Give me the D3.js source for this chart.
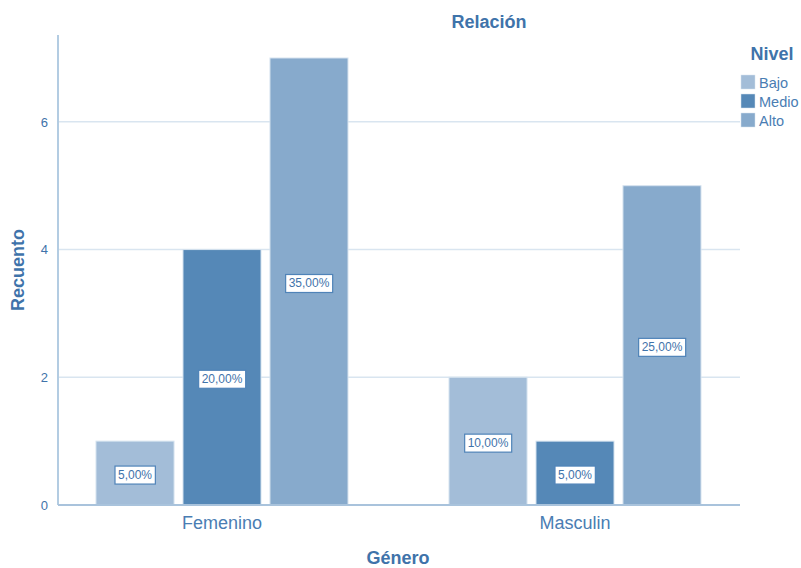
<!DOCTYPE html>
<html><head><meta charset="utf-8">
<script src="https://cdn.jsdelivr.net/npm/d3@7"></script>
<style>body{margin:0;background:#fff}svg{display:block}text{font-family:"Liberation Sans",Arial,sans-serif}</style>
</head><body><svg id="c" width="801" height="568"></svg>
<script>
const categories = ["Femenino", "Masculin"];
const levels = ["Bajo", "Medio", "Alto"];
const bajo = [1, 2];
const medio = [4, 1];
const alto = [7, 5];
const pctBajo = ["5,00%", "10,00%"];
const pctMedio = ["20,00%", "5,00%"];
const pctAlto = ["35,00%", "25,00%"];
const yTicks = [0, 2, 4, 6];
const colors = ["#a3bdd8", "#5588b7", "#87aacc"];

const series = [bajo, medio, alto];
const pcts = [pctBajo, pctMedio, pctAlto];
const data = [];
categories.forEach((c, i) => levels.forEach((l, j) => data.push({cat: c, lvl: l, v: series[j][i], p: pcts[j][i], col: colors[j]})));

const svg = d3.select("#c");
const x0 = 58, x1 = 740, yBase = 505, yTop = 35;
const y = d3.scaleLinear().domain([0, 7.36]).range([yBase, yTop]);
const xg = d3.scaleBand().domain(categories).range([45.5, 751.5]).padding(0);
const xi = d3.scaleBand().domain(levels).range([xg.bandwidth()/2 - 126, xg.bandwidth()/2 + 126]).paddingInner(0.103).paddingOuter(0);

const txt = "#3f73aa";
// gridlines
svg.append("g").selectAll("line").data(yTicks.filter(t => t > 0)).join("line")
  .attr("x1", x0).attr("x2", x1).attr("y1", d => y(d)).attr("y2", d => y(d))
  .attr("stroke", "#d9e5f0").attr("stroke-width", 1.5);

// y axis
const ya = svg.append("g").attr("transform", `translate(${x0},0)`)
  .call(d3.axisLeft(y).tickValues(yTicks).tickSize(0).tickPadding(10));
ya.select(".domain").remove();
ya.selectAll("text").attr("fill", txt).attr("font-size", 13);
svg.append("line").attr("x1", x0).attr("x2", x0).attr("y1", yTop).attr("y2", yBase)
  .attr("stroke", "#b3cce2").attr("stroke-width", 2);

// bars
const g = svg.append("g");
const bars = g.selectAll("g").data(data).join("g")
  .attr("transform", d => `translate(${xg(d.cat) + xi(d.lvl)},0)`);
bars.append("rect").attr("x", 0).attr("width", xi.bandwidth())
  .attr("y", d => y(d.v)).attr("height", d => yBase - y(d.v))
  .attr("fill", d => d.col).attr("stroke", "#d6e3ef").attr("stroke-width", 1);

// x axis
svg.append("line").attr("x1", x0).attr("x2", x1).attr("y1", yBase).attr("y2", yBase)
  .attr("stroke", "#a9c3dc").attr("stroke-width", 2);
const xa = svg.append("g").attr("transform", `translate(0,${yBase})`)
  .call(d3.axisBottom(xg).tickSize(0).tickPadding(11));
xa.select(".domain").remove();
xa.selectAll("text").attr("fill", "#4a7db3").attr("font-size", 18);

// data labels
bars.each(function(d) {
  const sel = d3.select(this);
  const cx = xi.bandwidth() / 2, cy = (y(d.v) + yBase) / 2 + 2;
  const t = sel.append("text").attr("x", cx).attr("y", cy).attr("text-anchor", "middle")
    .attr("dominant-baseline", "central").attr("font-size", 12).attr("fill", "#3f73aa").text(d.p);
  const bb = t.node().getBBox();
  sel.insert("rect", "text").attr("x", bb.x - 3).attr("y", cy - 9).attr("width", bb.width + 6).attr("height", 18)
    .attr("fill", "#fff").attr("stroke", "#4f83b8").attr("stroke-width", 1.2);
});

// titles
svg.append("text").attr("x", 489).attr("y", 28).attr("text-anchor", "middle")
  .attr("font-size", 18).attr("font-weight", "bold").attr("fill", txt).text("Relación");
svg.append("text").attr("x", 398).attr("y", 564).attr("text-anchor", "middle")
  .attr("font-size", 18).attr("font-weight", "bold").attr("fill", txt).text("Género");
svg.append("text").attr("transform", "translate(24,270) rotate(-90)").attr("text-anchor", "middle")
  .attr("font-size", 18).attr("font-weight", "bold").attr("fill", txt).text("Recuento");

// legend
svg.append("text").attr("x", 772).attr("y", 60).attr("text-anchor", "middle")
  .attr("font-size", 18).attr("font-weight", "bold").attr("fill", txt).text("Nivel");
const lg = svg.append("g").selectAll("g").data(levels).join("g")
  .attr("transform", (d, i) => `translate(741,${75 + i * 19})`);
lg.append("rect").attr("width", 14).attr("height", 14).attr("fill", (d, i) => colors[i])
  .attr("stroke", "#d6e3ef").attr("stroke-width", 0.5);
lg.append("text").attr("x", 18).attr("y", 12.5).attr("font-size", 14.5).attr("fill", "#4a7db3").text(d => d);
</script></body></html>
